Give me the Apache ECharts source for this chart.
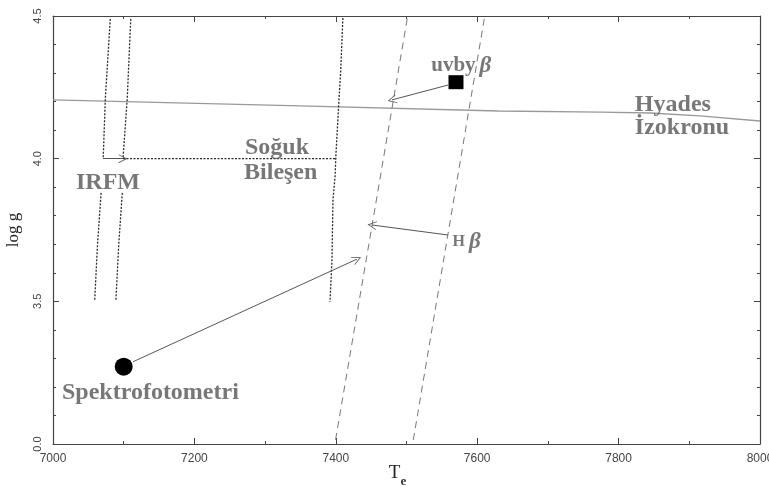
<!DOCTYPE html>
<html><head><meta charset="utf-8">
<script src="https://cdn.jsdelivr.net/npm/echarts@6/dist/echarts.min.js"></script>
<style>html,body{margin:0;padding:0;background:#fff}#c{width:769px;height:488px}</style>
</head><body><div id="c"></div>
<script>
// ---- data ----
const yTickValues = [3.0, 3.5, 4.0, 4.5];
const yTickLabels = ['0.0', '3.5', '4.0', '4.5'];

const hyadesT = [7000, 7350, 7630, 7775, 7845, 7915, 8000];
const hyadesG = [4.206, 4.185, 4.167, 4.163, 4.160, 4.150, 4.132];

const irfmLeftUpperT = [7081, 7074, 7071];
const irfmLeftUpperG = [4.49, 4.21, 4.0];
const irfmLeftLowerT = [7068, 7063, 7059];
const irfmLeftLowerG = [3.88, 3.70, 3.505];
const irfmRightUpperT = [7110, 7105, 7099];
const irfmRightUpperG = [4.49, 4.21, 4.0];
const irfmRightLowerT = [7098, 7093, 7089];
const irfmRightLowerG = [3.88, 3.70, 3.505];

const sogukT = [7410, 7407, 7404.5, 7400.3, 7398.9, 7396, 7394.6, 7391.8];
const sogukG = [4.493, 4.311, 4.206, 4.020, 3.936, 3.855, 3.645, 3.498];

const linkT = [7099, 7400];
const linkG = [4.0, 4.0];

const hbetaLeftT = [7501, 7399];
const hbetaLeftG = [4.49, 3.005];
const hbetaRightT = [7610, 7509];
const hbetaRightG = [4.49, 3.005];

const arrowFromT = [7558.7, 7558.7, 7113, 7070.7];
const arrowFromG = [4.258, 3.7325, 3.288, 4.0];
const arrowToT = [7479.5, 7451.2, 7430, 7099];
const arrowToG = [4.206, 3.7675, 3.648, 4.0];

const uvbyPoint = [7570, 4.268];
const spektroPoint = [7100, 3.271];

const labelTexts = ['Hyades', 'İzokronu', 'Soğuk', 'Bileşen', 'IRFM', 'Spektrofotometri', '{a|uvby}{b|β}', '{h|H}{b|β}'];
const labelT = [7823, 7823, 7271.6, 7270.2, 7032.5, 7012.7, 7535, 7565];
const labelG = [4.188, 4.1075, 4.037, 3.950, 3.915, 3.179, 4.325, 3.708];

// ---- build ----
const zip = (a, b) => a.map((v, i) => [v, b[i]]);
const dotted = { color: '#2a2a2a', width: 1.3, type: [2, 1.5] };
const vArrow = 'path://M5,0 L10,10 L9,10 L5,2 L1,10 L0,10 Z';
const serif = '"Liberation Serif", "Times New Roman", serif';

function lineSeries(T, G, style) {
  return { type: 'line', data: zip(T, G), showSymbol: false, symbol: 'none',
    lineStyle: style, silent: true, animation: false, z: 2 };
}

const axisCommon = {
  axisLine: { show: true, onZero: false, lineStyle: { color: '#444', width: 1.2 } },
  axisTick: { show: true, inside: true, length: 6, lineStyle: { color: '#444' } },
  minorTick: { show: true, length: 3, lineStyle: { color: '#444' } },
  splitLine: { show: false }
};

const chart = echarts.init(document.getElementById('c'));
chart.setOption({
  animation: false,
  backgroundColor: '#fff',
  grid: { left: 53, right: 9, top: 16, bottom: 44, containLabel: false, outerBoundsMode: 'none' },
  xAxis: [
    Object.assign({}, axisCommon, {
      type: 'value', min: 7000, max: 8000, interval: 200, minorTick: Object.assign({}, axisCommon.minorTick, { splitNumber: 2 }),
      position: 'bottom',
      axisLabel: { color: '#444', fontSize: 12, fontFamily: '"Liberation Sans", Arial, sans-serif', margin: 9, formatter: v => String(v) },
      name: '{t|T}{e|e}', nameLocation: 'middle', nameGap: 20, nameMoveOverlap: false,
      nameTextStyle: { rich: {
        t: { fontFamily: serif, fontSize: 19, color: '#222', lineHeight: 20, verticalAlign: 'top' },
        e: { fontFamily: serif, fontSize: 13, fontWeight: 'bold', color: '#333', lineHeight: 24, verticalAlign: 'bottom', padding: [0, 18, 0, 0] }
      } }
    }),
    Object.assign({}, axisCommon, {
      type: 'value', min: 7000, max: 8000, interval: 200, minorTick: Object.assign({}, axisCommon.minorTick, { splitNumber: 2 }),
      position: 'top', axisLabel: { show: false }
    })
  ],
  yAxis: [
    Object.assign({}, axisCommon, {
      type: 'value', min: 3.0, max: 4.5, interval: 0.5, minorTick: Object.assign({}, axisCommon.minorTick, { splitNumber: 5 }),
      position: 'left',
      axisLabel: { color: '#444', fontSize: 11, rotate: 90, margin: 10, fontFamily: '"Liberation Sans", Arial, sans-serif',
        formatter: v => { const i = yTickValues.findIndex(t => Math.abs(t - v) < 1e-6); return i >= 0 ? yTickLabels[i] : ''; } },
      name: 'log g', nameLocation: 'middle', nameGap: 31, nameRotate: 90, nameMoveOverlap: false,
      nameTextStyle: { fontFamily: serif, fontSize: 17, color: '#222' }
    }),
    Object.assign({}, axisCommon, {
      type: 'value', min: 3.0, max: 4.5, interval: 0.5, minorTick: Object.assign({}, axisCommon.minorTick, { splitNumber: 5 }),
      position: 'right', axisLabel: { show: false }
    })
  ],
  series: [
    lineSeries(hyadesT, hyadesG, { color: '#999', width: 1.3 }),
    lineSeries(irfmLeftUpperT, irfmLeftUpperG, dotted),
    lineSeries(irfmLeftLowerT, irfmLeftLowerG, dotted),
    lineSeries(irfmRightUpperT, irfmRightUpperG, dotted),
    lineSeries(irfmRightLowerT, irfmRightLowerG, dotted),
    lineSeries(sogukT, sogukG, dotted),
    lineSeries(linkT, linkG, dotted),
    lineSeries(hbetaLeftT, hbetaLeftG, { color: '#777', width: 1, type: [7, 5] }),
    lineSeries(hbetaRightT, hbetaRightG, { color: '#777', width: 1, type: [7, 5] }),
    {
      type: 'lines', coordinateSystem: 'cartesian2d', silent: true, z: 3,
      symbol: ['none', vArrow], symbolSize: [9, 9],
      lineStyle: { color: '#555', width: 1, opacity: 1 },
      data: arrowFromT.map((t, i) => ({ coords: [[t, arrowFromG[i]], [arrowToT[i], arrowToG[i]]] }))
    },
    { type: 'scatter', data: [uvbyPoint], symbol: 'rect', symbolSize: [15, 14], itemStyle: { color: '#000', opacity: 1 }, z: 4, silent: true },
    { type: 'scatter', data: [spektroPoint], symbol: 'circle', symbolSize: 18, itemStyle: { color: '#000', opacity: 1 }, z: 4, silent: true },
    {
      type: 'scatter', symbolSize: 0, z: 5, silent: true,
      data: labelT.map((t, i) => ({ value: [t, labelG[i]], name: labelTexts[i] })),
      label: {
        show: true, position: 'right', distance: 0, formatter: p => p.name,
        fontFamily: serif, fontWeight: 'bold', fontSize: 24, color: '#555',
        rich: {
          a: { fontFamily: serif, fontWeight: 'bold', fontSize: 21, color: '#555' },
          h: { fontFamily: serif, fontWeight: 'bold', fontSize: 16, color: '#555' },
          b: { fontFamily: serif, fontStyle: 'italic', fontSize: 23, color: '#555', padding: [0, 0, 0, 4] }
        }
      }
    }
  ]
});
</script></body></html>
